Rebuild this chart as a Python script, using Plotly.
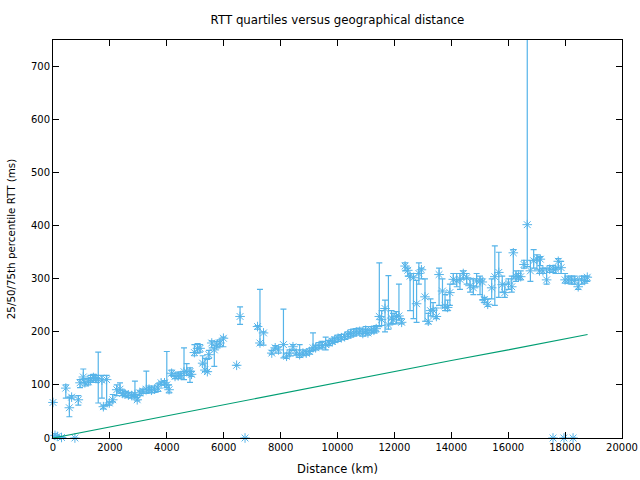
import plotly.graph_objects as go

# distance (km), 25th / 50th / 75th percentile RTT (ms)
dist = [0, 70, 150, 300, 450, 575, 655, 770, 890, 950, 1065, 1120, 1240, 1320, 1420, 1510, 1590, 1720,
        1770, 1885, 1980, 2100, 2240, 2355, 2450, 2530, 2650, 2765, 2880, 2960, 3050, 3165, 3280, 3375,
        3460, 3570, 3690, 3800, 3920, 4000, 4080, 4170, 4290, 4400, 4500, 4605, 4700, 4815, 4870, 4970,
        5080, 5170, 5260, 5340, 5425, 5480, 5580, 5670, 5755, 5870, 5990, 6455, 6575, 6750, 7190, 7275,
        7400, 7690, 7810, 7925, 8100, 8210, 8320, 8435, 8550, 8670, 8785, 8900, 9020, 9140, 9230, 9350,
        9465, 9585, 9700, 9820, 9900, 10020, 10135, 10250, 10370, 10460, 10570, 10660, 10780, 10890,
        10990, 11070, 11190, 11280, 11360, 11470, 11550, 11670, 11790, 11900, 11950, 12070, 12160, 12255,
        12375, 12470, 12550, 12670, 12780, 12860, 12950, 13075, 13190, 13270, 13360, 13475, 13570, 13690,
        13780, 13870, 13950, 14070, 14190, 14305, 14420, 14540, 14660, 14775, 14890, 15010, 15090, 15160,
        15280, 15420, 15530, 15670, 15790, 15880, 16010, 16125, 16180, 16275, 16360, 16440, 16555, 16670,
        16780, 16895, 17010, 17100, 17130, 17220, 17350, 17460, 17575, 17580, 17670, 17760, 17860, 17960,
        18000, 18110, 18230, 18280, 18340, 18460, 18580, 18690, 18780]
rtt_q50 = [67, 5, 3, 1, 94, 57, 77, 0, 72, 104, 115, 104, 106, 111, 114, 112, 111, 109,
           59, 110, 66, 72, 91, 92, 84, 83, 81, 80, 82, 72, 85, 88, 92, 92,
           90, 92, 94, 104, 104, 100, 91, 122, 116, 117, 118, 125, 125, 125, 120, 161,
           169, 169, 141, 128, 125, 157, 179, 166, 175, 179, 188, 137, 229, 0, 210, 179,
           198, 160, 170, 166, 176, 154, 160, 172, 160, 157, 160, 160, 163, 170, 170, 174,
           174, 176, 179, 182, 185, 188, 189, 191, 194, 197, 198, 200, 201, 197,
           203, 198, 203, 203, 206, 229, 223, 244, 213, 226, 223, 229, 230, 218,
           324, 316, 305, 302, 253, 310, 317, 266, 220, 240, 241, 229, 308, 277,
           249, 246, 274, 299, 296, 299, 310, 302, 287, 283, 296, 296, 294, 261,
           252, 283, 304, 312, 289, 274, 292, 285, 349, 305, 304, 304, 327, 402,
           315, 334, 337, 315, 337, 315, 298, 318, 0, 318, 318, 333, 321, 0,
           298, 298, 298, 0, 297, 285, 298, 297, 303]
rtt_q25 = [67, 0, 0, 0, 75, 40, 74, 0, 62, 95, 104, 98, 100, 105, 108, 105, 66, 75,
           55, 62, 62, 68, 80, 85, 80, 78, 76, 75, 78, 70, 80, 84, 84, 86,
           85, 86, 88, 100, 100, 95, 85, 118, 112, 112, 113, 110, 118, 105, 116, 155,
           160, 162, 138, 125, 125, 150, 170, 135, 170, 172, 172, 137, 214, 0, 205, 175,
           175, 158, 168, 160, 151, 150, 155, 165, 156, 152, 155, 156, 158, 165, 166, 168,
           170, 166, 174, 178, 180, 182, 185, 186, 188, 190, 192, 194, 196, 192,
           198, 194, 198, 198, 200, 210, 212, 200, 205, 215, 215, 215, 222, 215,
           315, 305, 240, 225, 218, 290, 300, 220, 215, 230, 228, 225, 250, 245,
           240, 240, 250, 290, 285, 280, 300, 290, 275, 270, 285, 270, 260, 255,
           248, 262, 250, 265, 275, 265, 280, 275, 300, 295, 300, 298, 320, 323,
           295, 320, 318, 310, 325, 310, 290, 312, 0, 312, 310, 320, 310, 0,
           292, 292, 290, 0, 290, 280, 290, 292, 295]
rtt_q75 = [67, 8, 5, 2, 100, 77, 80, 0, 80, 110, 130, 112, 112, 118, 120, 118, 162, 118,
           62, 118, 68, 82, 100, 104, 90, 88, 86, 85, 107, 76, 90, 92, 126, 98,
           96, 98, 102, 106, 108, 163, 100, 128, 122, 124, 122, 170, 140, 132, 126, 176,
           178, 176, 155, 150, 148, 165, 183, 175, 182, 185, 190, 137, 247, 0, 212, 280,
           200, 165, 174, 172, 243, 160, 166, 176, 166, 176, 166, 164, 168, 198, 175, 180,
           182, 190, 184, 188, 190, 194, 195, 196, 200, 204, 205, 206, 207, 205,
           210, 205, 210, 210, 212, 330, 240, 260, 306, 240, 235, 238, 290, 225,
           330, 320, 310, 310, 297, 330, 320, 300, 235, 262, 255, 245, 320, 300,
           270, 260, 290, 310, 310, 310, 315, 310, 300, 300, 310, 305, 300, 265,
           262, 300, 362, 350, 305, 290, 300, 305, 355, 315, 310, 315, 335, 800,
           335, 355, 345, 340, 342, 320, 320, 325, 0, 325, 322, 338, 333, 0,
           310, 305, 305, 0, 305, 300, 305, 305, 305]

# lower bound line (speed of light in fibre)
bound_dist = [0, 2000, 4000, 6000, 8000, 10000, 12000, 14000, 16000, 18000, 18790]
bound_rtt = [0, 21, 42, 62, 83, 104, 125, 146, 166, 187, 195]

err_plus = [h - m for h, m in zip(rtt_q75, rtt_q50)]
err_minus = [m - l for m, l in zip(rtt_q50, rtt_q25)]

blue = "#56B4E9"
green = "#009E73"
font = "DejaVu Sans"

fig = go.Figure()
fig.add_trace(go.Scatter(
    x=dist, y=rtt_q50, mode="markers",
    marker=dict(symbol="asterisk-open", size=8, color=blue, line=dict(color=blue, width=1)),
    error_y=dict(type="data", array=err_plus, arrayminus=err_minus, symmetric=False,
                 color=blue, thickness=1.2, width=3),
    cliponaxis=False, showlegend=False,
))
fig.add_trace(go.Scatter(
    x=bound_dist, y=bound_rtt, mode="lines",
    line=dict(color=green, width=1.2), showlegend=False,
))

axis_common = dict(
    showline=True, linecolor="black", linewidth=1, mirror="allticks",
    ticks="inside", ticklen=6, tickwidth=1, tickcolor="black",
    showgrid=False, zeroline=False, automargin=False,
    tickfont=dict(family=font, size=10, color="black"),
)

fig.update_layout(
    width=640, height=480,
    margin=dict(l=53, r=18, t=40, b=42),
    paper_bgcolor="white", plot_bgcolor="white",
    title=dict(text="RTT quartiles versus geographical distance", x=(53 + 569 / 2) / 640,
               xanchor="center", y=1 - 20 / 480, yanchor="middle",
               font=dict(family=font, size=11.8, color="black")),
    xaxis=dict(range=[0, 20000], dtick=2000, tick0=0, tickformat="d",
               title=dict(text="Distance (km)", standoff=12,
                          font=dict(family=font, size=11.5, color="black")),
               **axis_common),
    yaxis=dict(range=[0, 750], dtick=100, tick0=0, tickformat="d",
               title=dict(text="25/50/75th percentile RTT (ms)", standoff=13,
                          font=dict(family=font, size=10.3, color="black")),
               **axis_common),
)

fig.write_html("out.html")
